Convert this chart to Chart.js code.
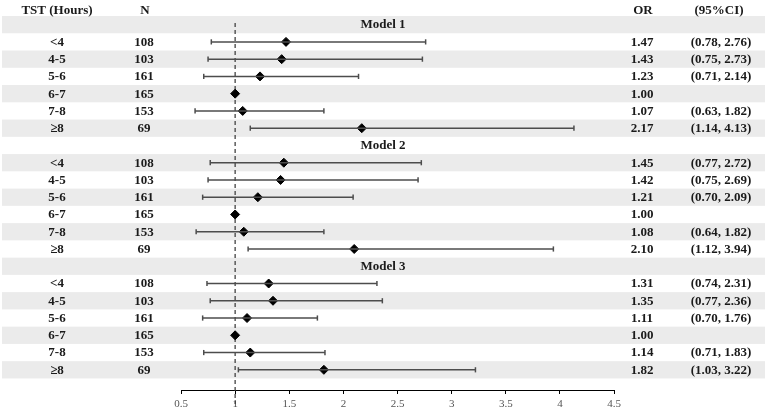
<!DOCTYPE html>
<html>
<head>
<meta charset="utf-8">
<script src="https://cdn.jsdelivr.net/npm/chart.js@4.4.1/dist/chart.umd.min.js"></script>
<style>
  html, body { margin: 0; padding: 0; background: #fff; }
  #wrap { position: relative; width: 767px; height: 409px; }
</style>
</head>
<body>
<div id="wrap"><canvas id="forest-chart"></canvas></div>
<script>
// dados
const categories = ['<4', '4-5', '5-6', '6-7', '7-8', '≥8'];
const nValues = [108, 103, 161, 165, 153, 69];
const models = ['Model 1', 'Model 2', 'Model 3'];

const or1 = [1.47, 1.43, 1.23, 1.00, 1.07, 2.17];
const lo1 = [0.78, 0.75, 0.71, null, 0.63, 1.14];
const hi1 = [2.76, 2.73, 2.14, null, 1.82, 4.13];

const or2 = [1.45, 1.42, 1.21, 1.00, 1.08, 2.10];
const lo2 = [0.77, 0.75, 0.70, null, 0.64, 1.12];
const hi2 = [2.72, 2.69, 2.09, null, 1.82, 3.94];

const or3 = [1.31, 1.35, 1.11, 1.00, 1.14, 1.82];
const lo3 = [0.74, 0.77, 0.70, null, 0.71, 1.03];
const hi3 = [2.31, 2.36, 1.76, null, 1.83, 3.22];

const xTicks = [0.5, 1, 1.5, 2, 2.5, 3, 3.5, 4, 4.5];

const orByModel = [or1, or2, or3];
const loByModel = [lo1, lo2, lo3];
const hiByModel = [hi1, hi2, hi3];

// monta as linhas da tabela (cabeçalho do modelo + categorias)
const rows = [];
models.forEach((m, mi) => {
  rows.push({ header: m });
  categories.forEach((c, ci) => {
    rows.push({
      cat: c, n: nValues[ci],
      or: orByModel[mi][ci], lo: loByModel[mi][ci], hi: hiByModel[mi][ci]
    });
  });
});

const ciLines = [];
const caps = [];
const points = [];
rows.forEach((r, i) => {
  if (r.header) return;
  points.push({ x: r.or, y: i });
  if (r.lo != null) {
    ciLines.push({ x: r.lo, y: i }, { x: r.hi, y: i }, { x: null, y: null });
    caps.push({ x: r.lo, y: i }, { x: r.hi, y: i });
  }
});

const serif = '"Liberation Serif", "Times New Roman", serif';
const lineColor = '#4d4d4d';

const forestPlugin = {
  id: 'forest',
  beforeDraw(chart) {
    const ctx = chart.ctx;
    const y = chart.scales.y;
    ctx.save();
    ctx.fillStyle = '#ebebeb';
    rows.forEach((r, i) => {
      if (i % 2 !== 0) return;
      const top = y.getPixelForValue(i - 0.5);
      const bot = y.getPixelForValue(i + 0.5);
      ctx.fillRect(2, top, 763, bot - top);
    });
    ctx.restore();
  },
  beforeDatasetsDraw(chart) {
    const ctx = chart.ctx;
    const x = chart.scales.x.getPixelForValue(1);
    const area = chart.chartArea;
    ctx.save();
    ctx.strokeStyle = '#333';
    ctx.lineWidth = 1.2;
    ctx.setLineDash([4, 3]);
    ctx.beginPath();
    ctx.moveTo(x, area.top + 7);
    ctx.lineTo(x, area.bottom + 14);
    ctx.stroke();
    ctx.restore();
  },
  afterDraw(chart) {
    const ctx = chart.ctx;
    const y = chart.scales.y;
    ctx.save();
    ctx.fillStyle = '#1a1a1a';
    ctx.font = 'bold 13px ' + serif;
    ctx.textAlign = 'center';
    ctx.textBaseline = 'middle';
    const hy = y.getPixelForValue(-0.8);
    ctx.fillText('TST (Hours)', 57, hy);
    ctx.fillText('N', 145, hy);
    ctx.fillText('OR', 643, hy);
    ctx.fillText('(95%CI)', 719, hy);
    rows.forEach((r, i) => {
      const py = y.getPixelForValue(i) + 0.5;
      if (r.header) {
        ctx.fillText(r.header, 383, py);
        return;
      }
      ctx.fillText(r.cat, 57, py);
      ctx.fillText(String(r.n), 144, py);
      ctx.fillText(r.or.toFixed(2), 642, py);
      if (r.lo != null) {
        ctx.fillText('(' + r.lo.toFixed(2) + ', ' + r.hi.toFixed(2) + ')', 721, py);
      }
    });
    ctx.restore();
  }
};

new Chart(document.getElementById('forest-chart'), {
  type: 'scatter',
  data: {
    datasets: [{
      data: ciLines,
      showLine: true,
      borderColor: lineColor,
      borderWidth: 1.5,
      pointRadius: 0,
      spanGaps: false
    }, {
      data: caps,
      pointStyle: 'line',
      rotation: 90,
      radius: 2.6,
      borderColor: lineColor,
      borderWidth: 1.5
    }, {
      data: points,
      pointStyle: 'rectRot',
      radius: 4.5,
      backgroundColor: '#000',
      borderColor: '#000',
      borderWidth: 1
    }]
  },
  options: {
    responsive: true,
    maintainAspectRatio: false,
    animation: false,
    layout: { padding: { left: 181, right: 153, top: 16, bottom: -6 } },
    scales: {
      x: {
        type: 'linear',
        min: 0.5,
        max: 4.5,
        afterBuildTicks: (axis) => { axis.ticks = xTicks.map(v => ({ value: v })); },
        ticks: {
          callback: (v) => String(v),
          color: '#555',
          padding: 5,
          maxRotation: 0,
          font: { family: serif, size: 11, lineHeight: 1 }
        },
        grid: { display: true, drawOnChartArea: false, drawTicks: true, tickLength: 4, color: '#000' },
        border: { display: true, color: '#000', width: 1 }
      },
      y: {
        type: 'linear',
        reverse: true,
        min: -0.5,
        max: 21.17,
        display: false
      }
    },
    plugins: { legend: { display: false }, tooltip: { enabled: false } }
  },
  plugins: [forestPlugin]
});
</script>
</body>
</html>
